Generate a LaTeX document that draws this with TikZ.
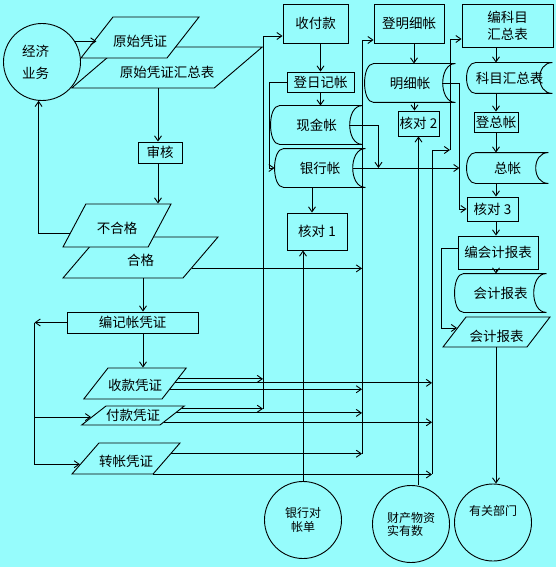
\documentclass[tikz,border=0pt]{standalone}
\usepackage{fontspec}
\setmainfont{Noto Sans CJK SC}
\usetikzlibrary{shapes.geometric,arrows.meta,calc}
\definecolor{bgcyan}{RGB}{150,252,252}
% outline of an on-line storage symbol round a plain node
\newcommand\storeshape[1]{%
  \draw ([xshift=9pt]#1.north west) -- (#1.north east)
    .. controls ([xshift=-17pt]#1.north east) and ([xshift=-17pt]#1.south east) .. (#1.south east)
    -- ([xshift=9pt]#1.south west)
    .. controls ([xshift=-3pt]#1.south west) and ([xshift=-3pt]#1.north west) .. cycle;}

\begin{document}
\begin{tikzpicture}[x=1pt,y=-1pt,line width=0.9pt,
  >={Straight Barb[length=5pt,width=7pt]},
  font=\fontsize{13.5}{15}\selectfont,
  rbox/.style={draw,fill=bgcyan,inner sep=0pt},
  para/.style n args={4}{draw,fill=bgcyan,trapezium,trapezium stretches body,inner sep=0pt,
    trapezium left angle=#1,trapezium right angle=#2,text height=#3,text depth=#4},
  circ/.style={draw,circle,inner sep=0pt,minimum size=77pt,align=center,
    font=\fontsize{12}{14}\selectfont},
  stor/.style={inner sep=0pt}]
  \fill[bgcyan] (0,0) rectangle (556,567);
  \useasboundingbox (0,0) rectangle (556,567);

  % left column
  \node[circ,font=\fontsize{13.5}{22}\selectfont,text width=40pt,align=left] (jjyw) at (42,62) {经济\\业务};
  \node[para={40.5}{139.5}{30.7pt}{10.3pt},minimum width=168pt] (yspzhzb) at (167,67.5) {原始凭证汇总表};
  \node[para={52}{128}{29.7pt}{11.3pt},minimum width=108pt] (yspz) at (140,37.5) {原始凭证};
  \node[rbox,minimum width=44pt,minimum height=21pt] (sh) at (160,152.5) {审核};
  \node[para={49.5}{130.5}{28.7pt}{12.3pt},minimum width=155pt] (hg) at (140.5,257.5) {合格};
  \node[para={62}{118}{29.7pt}{13.3pt},minimum width=108pt] (bhg) at (117,225.5) {不合格};
  \node[rbox,minimum width=131pt,minimum height=21pt] (bjzpz) at (132.5,322.5) {编记帐凭证};
  \node[para={52}{128}{22.7pt}{8.3pt},minimum width=96pt] (skpz) at (135,383.5) {收款凭证};
  \node[para={38}{142}{14.2pt}{4.8pt},minimum width=100pt] (fkpz) at (133,415.5) {付款凭证};
  \node[para={49}{131}{23.7pt}{7.3pt},minimum width=108pt] (zzpz) at (126,458.5) {转帐凭证};

  % middle columns
  \node[rbox,minimum width=65pt,minimum height=39pt] (sfk) at (315.5,23.5) {收付款};
  \node[rbox,minimum width=67pt,minimum height=20pt] (drjz) at (320.5,82) {登日记帐};
  \node[stor,minimum width=91pt,minimum height=38pt] (xjz) at (316.5,125) {现金帐};
  \node[stor,minimum width=90pt,minimum height=38pt] (yhz) at (320,168) {银行帐};
  \node[rbox,minimum width=60pt,minimum height=37pt] (hd1) at (317,231.5) {核对 1};
  \node[circ] (yhdzd) at (303,520) {银行对\\帐单};
  \node[rbox,minimum width=70pt,minimum height=39pt] (dmxz) at (409,23.5) {登明细帐};
  \node[stor,minimum width=90pt,minimum height=38pt] (mxz) at (410,83) {明细帐};
  \node[rbox,minimum width=41pt,minimum height=25pt] (hd2) at (418.5,123.5) {核对 2};
  \node[circ,align=left,font=\fontsize{12}{13}\selectfont] (ccwz) at (411,524) {财产物资\\实有数};

  % right column
  \node[rbox,minimum width=91pt,minimum height=43pt,font=\fontsize{13.5}{17}\selectfont,align=center] (bkm) at (507.5,25.5) {编科目\\汇总表};
  \node[stor,minimum width=85pt,minimum height=30pt] (kmhzb) at (509.5,78) {科目汇总表};
  \node[rbox,minimum width=44pt,minimum height=20pt] (dzz) at (496,122) {登总帐};
  \node[stor,minimum width=81pt,minimum height=30pt] (zz) at (507.5,168) {总帐};
  \node[rbox,minimum width=51pt,minimum height=24pt] (hd3) at (492.5,209) {核对 3};
  \node[rbox,minimum width=80pt,minimum height=33pt] (bkjbb) at (498,252.5) {编会计报表};
  \node[stor,minimum width=91pt,minimum height=38pt] (kjbb1) at (500.5,293) {会计报表};
  \node[para={52.5}{127.5}{24.7pt}{5.3pt},minimum width=107pt] (kjbb2) at (496.5,332) {会计报表};
  \node[circ,text height=6pt,text depth=20.6pt] (ygbm) at (493,522.5) {有关部门};

  \foreach \s in {xjz,yhz,mxz,kmhzb,zz,kjbb1} {\storeshape{\s}}

  % points on the slanted sides
  \path ($(skpz.top right corner)!0.355!(skpz.bottom right corner)$) coordinate (sk1)
        ($(skpz.top right corner)!0.48!(skpz.bottom right corner)$) coordinate (sk2)
        ($(skpz.top right corner)!0.68!(skpz.bottom right corner)$) coordinate (sk3)
        ($(fkpz.top right corner)!0.16!(fkpz.bottom right corner)$) coordinate (fk1)
        ($(fkpz.top right corner)!0.37!(fkpz.bottom right corner)$) coordinate (fk2)
        ($(fkpz.top right corner)!0.84!(fkpz.bottom right corner)$) coordinate (fk3)
        ($(zzpz.top right corner)!0.35!(zzpz.bottom right corner)$) coordinate (zz1)
        (zzpz.bottom right corner) coordinate (zz2)
        ($(hg.top right corner)!0.76!(hg.bottom right corner)$) coordinate (hg1)
        ($(bhg.top left corner)!0.67!(bhg.bottom left corner)$) coordinate (bhg1)
        ($(fkpz.top left corner)!0.58!(fkpz.bottom left corner)$) coordinate (fkl)
        ($(zzpz.top left corner)!0.68!(zzpz.bottom left corner)$) coordinate (zzl)
        ($(kjbb2.top left corner)!0.37!(kjbb2.bottom left corner)$) coordinate (kj2l);
  \coordinate (colA) at (158,0);
  \coordinate (colB) at (143,0);
  \coordinate (lbus) at ([xshift=-32pt]bjzpz.west);
  \coordinate (busA) at (263,409);
  \coordinate (busB) at (362,454);
  \coordinate (busC) at (432,474);
  \coordinate (busCt) at (450,150);
  \coordinate (jn1) at ([xshift=13pt]yhz.east);
  \coordinate (busD) at ([xshift=4pt]mxz.east);

  % left column
  \draw[->] (jjyw.32) -- (jjyw.32 -| yspz.west);
  \draw[->] (colA |- yspzhzb.south) -- (colA |- sh.north);
  \draw[->] (colA |- sh.south) -- (colA |- bhg.north);
  \draw[->] (bhg1) -| (jjyw.265);
  \draw[->] (colB |- hg.south) -- (colB |- bjzpz.north);
  \draw[->] (colB |- bjzpz.south) -- (colB |- skpz.north);
  \draw[->] (bjzpz.west) -- (lbus);
  \draw[->] (lbus) |- (zzl);
  \draw[->] (lbus |- fkl) -- (fkl);

  % vouchers to the collecting lines
  \draw[->] (sk1) -- (sk1 -| busA);
  \draw[->] (sk2) -- (sk2 -| busC);
  \draw[->] (sk3) -- (sk3 -| busB);
  \draw[->] (fk1) -- (fk1 -| busA);
  \draw[->] (fk2) -- (fk2 -| busB);
  \draw[->] (fk3) -- (fk3 -| busC);
  \draw[->] (zz1) -- (zz1 -| busB);
  \draw[->] (zz2) -- (zz2 -| busC);
  \draw[->] (hg1) -- (hg1 -| busB);
  \draw[->] (busA) |- ([yshift=-12.5pt]sfk.west);
  \draw[->] (busB) |- ([yshift=-16.5pt]dmxz.west);
  \draw[->] (busC) |- (busCt);
  \draw[->] (busCt) |- ([yshift=-13.5pt]bkm.west);

  % journals
  \draw[->] (drjz.north |- sfk.south) -- (drjz.north);
  \draw[->] (drjz.south) -- (drjz.south |- xjz.north);
  \draw[->] (drjz.west) -- ++(-17,0) |- (yhz.west);
  \draw[->] ([xshift=-5pt]hd1.north |- yhz.south) -- ([xshift=-5pt]hd1.north);
  \draw[->] (yhdzd.north) -- (yhdzd.north |- hd1.south);
  \draw[->] ([xshift=-13pt]xjz.east) -| (jn1);
  \draw[->] ([xshift=-12pt]yhz.east) -- (yhz.east -| busD);

  % detail ledgers
  \draw[->] ([xshift=5pt]dmxz.south) -- ([xshift=5pt]dmxz.south |- mxz.north);
  \draw[->] ([xshift=-4pt]hd2.north |- mxz.south) -- ([xshift=-4pt]hd2.north);
  \draw[->] (hd2.south |- ccwz.north) -- (hd2.south);
  \draw[->] ([xshift=-13pt]mxz.east) -- (busD) |- (hd3.west);

  % general ledger and reports
  \draw[->] (dzz |- bkm.south) -- (dzz |- kmhzb.north);
  \draw[->] (dzz |- kmhzb.south) -- (dzz.north);
  \draw[->] (dzz.south) -- (dzz |- zz.north);
  \draw[->] (dzz |- zz.south) -- (dzz |- hd3.north);
  \draw[->] (dzz |- hd3.south) -- (dzz |- bkjbb.north);
  \draw[->] (dzz |- bkjbb.south) -- (dzz |- kjbb1.north);
  \draw[->] ([yshift=4.5pt]bkjbb.west) -- ++(-16,0) |- (kj2l);
  \draw[->] (dzz |- kjbb2.south) -- (dzz |- ygbm.north);
\end{tikzpicture}
\end{document}
